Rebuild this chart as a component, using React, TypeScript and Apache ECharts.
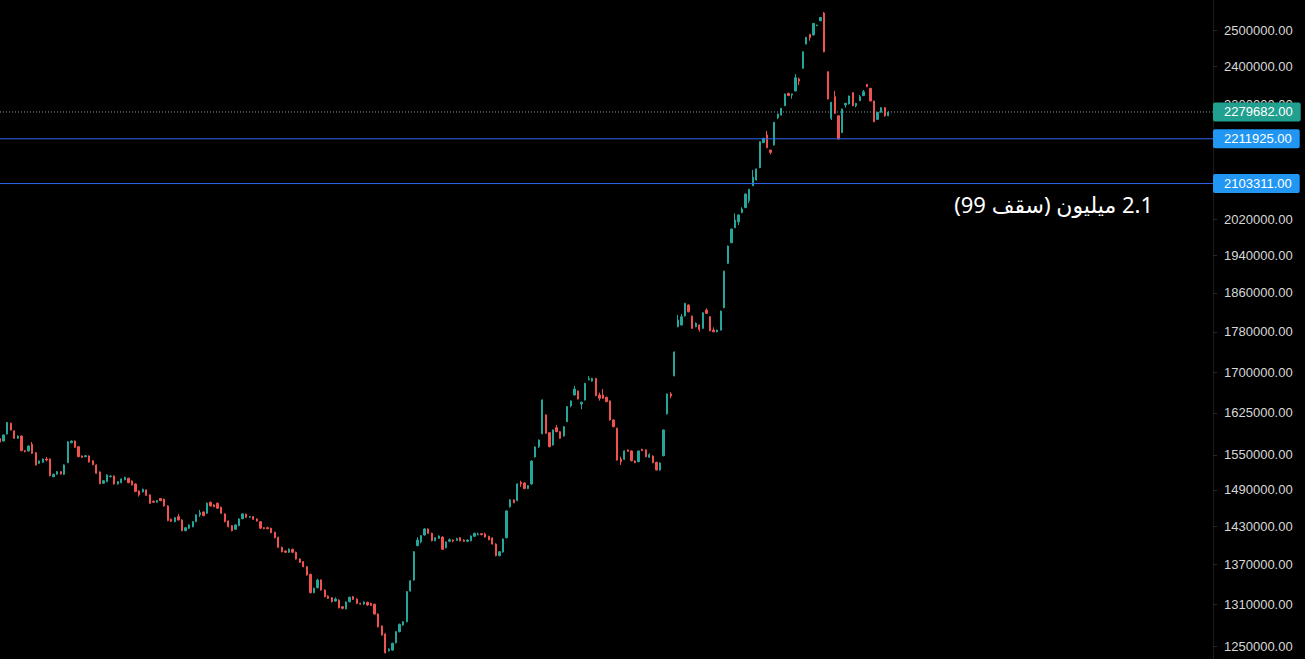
import { useEffect, useRef } from 'react';
import * as echarts from 'echarts';

const opens = [
  1578700, 1574250, 1586800, 1606000, 1592200, 1579100, 1583200, 1557300, 1556750, 1568500,
  1553800, 1535300, 1537000, 1542800, 1542800, 1512300, 1516500, 1520900, 1516500, 1536400,
  1571300, 1574300, 1564300, 1548000, 1546800, 1548000, 1539800, 1532400, 1520400, 1501200,
  1503900, 1512300, 1513500, 1500000, 1502200, 1507200, 1509600, 1505000, 1500000, 1488300,
  1486700, 1490000, 1481700, 1471200, 1469500, 1475500, 1474500, 1463400, 1441600, 1437700,
  1445900, 1440500, 1423200, 1427100, 1429600, 1437700, 1448700, 1453500, 1451400, 1469500,
  1465100, 1467900, 1461300, 1450300, 1438900, 1431300, 1425400, 1431300, 1442600, 1449800,
  1444900, 1445900, 1442100, 1437700, 1428000, 1428000, 1427100, 1420600, 1412600, 1396800,
  1391000, 1389000, 1393700, 1389000, 1378600, 1374400, 1366700, 1355000, 1327300, 1334800,
  1346300, 1331300, 1322300, 1319800, 1314800, 1316300, 1306500, 1303500, 1313800, 1321300,
  1317800, 1311400, 1310400, 1312900, 1311400, 1310000, 1295800, 1278400, 1267000, 1243300,
  1244300, 1254600, 1270300, 1279900, 1284600, 1329800, 1346300, 1399400, 1405600, 1416300,
  1425900, 1419000, 1407200, 1411000, 1413100, 1396200, 1406300, 1408300, 1407800, 1412000,
  1408300, 1406300, 1407200, 1414200, 1416800, 1418400, 1417900, 1414200, 1411500, 1402000,
  1383700, 1389500, 1412000, 1461800, 1473300, 1472100, 1502900, 1501700, 1492200, 1500000,
  1546300, 1564300, 1587300, 1621200, 1589100, 1567300, 1598100, 1590900, 1583200, 1609000,
  1637700, 1658000, 1665400, 1641300, 1648700, 1686600, 1684100, 1689200, 1658000, 1658000,
  1653700, 1646900, 1612000, 1597100, 1542800, 1542300, 1558500, 1556800, 1539300, 1538100,
  1559700, 1558500, 1545700, 1548000, 1537000, 1523800, 1548500, 1623000, 1659800, 1694200,
  1790300, 1793800, 1812000, 1834600, 1812000, 1790300, 1793800, 1787100, 1824200, 1810600,
  1783600, 1780200, 1783600, 1829000, 1922700, 1967800, 2001200, 2014800, 2035400, 2047000,
  2063200, 2098200, 2111800, 2141200, 2202300, 2221500, 2184000, 2196500, 2264900, 2271900,
  2295900, 2328200, 2323800, 2334200, 2365700, 2394600, 2460800, 2488000, 2486000, 2512000,
  2526000, 2548300, 2385400, 2263400, 2319300, 2270000, 2227300, 2297700, 2300300, 2329800,
  2295900, 2308900, 2322000, 2351700, 2341300, 2308100, 2260800, 2278800, 2290700, 2270000,
];

const highs = [
  1579800, 1586000, 1608500, 1607000, 1593200, 1584200, 1584200, 1558300, 1566500, 1572500,
  1554800, 1540300, 1543800, 1546300, 1543800, 1517500, 1521900, 1521900, 1533400, 1574000,
  1575300, 1575300, 1565300, 1549000, 1549500, 1549000, 1540800, 1533400, 1521400, 1506500,
  1516300, 1514500, 1514500, 1504900, 1509400, 1512300, 1510600, 1506000, 1501000, 1489300,
  1492200, 1491000, 1482700, 1472200, 1473100, 1476500, 1475500, 1464400, 1442600, 1445200,
  1450300, 1441500, 1429000, 1433400, 1438700, 1449700, 1456800, 1454500, 1468900, 1470500,
  1466100, 1468900, 1462300, 1451300, 1439900, 1432300, 1433400, 1443100, 1451300, 1450800,
  1446900, 1446900, 1443100, 1438700, 1429000, 1429600, 1428100, 1421600, 1413600, 1397800,
  1392000, 1395000, 1394700, 1390000, 1379600, 1375400, 1367700, 1356000, 1334900, 1348300,
  1347300, 1332300, 1323300, 1320800, 1320400, 1317300, 1307500, 1314400, 1321400, 1322300,
  1318800, 1312400, 1314400, 1313900, 1312400, 1311000, 1296800, 1279400, 1268000, 1246700,
  1254700, 1271300, 1281900, 1285600, 1329800, 1346200, 1390900, 1412600, 1416200, 1427500,
  1426900, 1420000, 1413000, 1415700, 1414100, 1406200, 1411000, 1409300, 1412000, 1413000,
  1409300, 1409300, 1415700, 1420000, 1420000, 1419400, 1420000, 1415200, 1412500, 1403000,
  1390900, 1410900, 1456200, 1475000, 1474300, 1501000, 1505500, 1502700, 1498200, 1540300,
  1564800, 1577000, 1649700, 1622200, 1590100, 1595000, 1603000, 1591900, 1600900, 1637400,
  1647900, 1674700, 1666400, 1645500, 1680800, 1693600, 1690200, 1690200, 1662200, 1669100,
  1654700, 1647900, 1613000, 1598100, 1546800, 1557800, 1559500, 1557800, 1540300, 1557800,
  1560700, 1559500, 1552700, 1549000, 1538000, 1536800, 1595000, 1660800, 1663000, 1741100,
  1814100, 1816100, 1839100, 1835600, 1813000, 1799200, 1794800, 1819700, 1827700, 1811600,
  1789100, 1784600, 1823200, 1906900, 1961500, 1999300, 2034000, 2031200, 2047900, 2079700,
  2090700, 2135700, 2139100, 2205800, 2214300, 2231500, 2185000, 2254300, 2275400, 2290100,
  2327400, 2329200, 2327400, 2379200, 2369200, 2440300, 2480600, 2489000, 2519800, 2515000,
  2536800, 2551200, 2386400, 2305700, 2334200, 2271000, 2288300, 2303100, 2322100, 2330800,
  2303100, 2323800, 2336800, 2352700, 2342300, 2309100, 2279800, 2291700, 2291700, 2281000,
];

const lows = [
  1571500, 1573200, 1585800, 1593000, 1578100, 1578100, 1556300, 1554500, 1555700, 1551700,
  1531400, 1534300, 1536000, 1538400, 1513100, 1511300, 1515500, 1516000, 1515500, 1535400,
  1570300, 1562200, 1545800, 1544700, 1545800, 1536600, 1531900, 1517200, 1499500, 1500200,
  1502900, 1511300, 1499000, 1499000, 1501200, 1506200, 1501200, 1497400, 1486200, 1478800,
  1485700, 1480100, 1466900, 1468500, 1468500, 1471100, 1462400, 1438400, 1437400, 1436700,
  1439500, 1422200, 1422200, 1426100, 1428600, 1436700, 1445400, 1446500, 1450400, 1462400,
  1461200, 1458600, 1450400, 1436700, 1428600, 1422200, 1424400, 1430300, 1441600, 1443900,
  1443900, 1440600, 1437900, 1426100, 1425400, 1425400, 1419000, 1411000, 1395800, 1388900,
  1388000, 1388000, 1388000, 1377600, 1372500, 1365700, 1353000, 1326300, 1326300, 1333800,
  1330300, 1320300, 1317900, 1312800, 1313800, 1304000, 1302600, 1302500, 1312800, 1316400,
  1310400, 1309400, 1309400, 1308000, 1307500, 1294800, 1276400, 1264600, 1239500, 1242300,
  1243300, 1253600, 1269300, 1278900, 1283600, 1328800, 1345300, 1398400, 1403100, 1415300,
  1418000, 1406200, 1406200, 1409900, 1392700, 1395200, 1405300, 1404700, 1406800, 1406200,
  1405300, 1405300, 1406200, 1413200, 1415800, 1415800, 1412100, 1407800, 1401000, 1382700,
  1382700, 1388500, 1411000, 1460800, 1467800, 1471100, 1495000, 1491200, 1491200, 1499000,
  1545300, 1562000, 1586300, 1587100, 1563300, 1566300, 1589900, 1578100, 1582200, 1608000,
  1635300, 1657000, 1649600, 1631600, 1647700, 1685600, 1683100, 1655700, 1647400, 1650900,
  1644600, 1611000, 1598900, 1540000, 1532400, 1541300, 1555200, 1538800, 1535400, 1537100,
  1556300, 1545800, 1544700, 1535400, 1522800, 1522800, 1547500, 1622000, 1651900, 1693200,
  1789300, 1792800, 1811000, 1819700, 1786100, 1789300, 1780200, 1786100, 1816500, 1781200,
  1779200, 1779200, 1782600, 1828000, 1921700, 1966800, 2000200, 2007400, 2034400, 2046000,
  2057200, 2097200, 2110800, 2140200, 2201300, 2188800, 2173600, 2195500, 2261600, 2270900,
  2294900, 2321000, 2314100, 2333200, 2350000, 2393600, 2459800, 2470000, 2485000, 2511000,
  2525000, 2438300, 2312300, 2259000, 2275200, 2210500, 2226300, 2290700, 2299300, 2294900,
  2291700, 2307900, 2321000, 2344400, 2307100, 2253800, 2259800, 2277800, 2267500, 2269000,
];

const closes = [
  1572500, 1585000, 1607500, 1594000, 1579100, 1583200, 1557300, 1555500, 1565500, 1552700,
  1532400, 1539300, 1542800, 1541000, 1514100, 1516500, 1520900, 1517000, 1532400, 1573000,
  1574300, 1563200, 1546800, 1545700, 1548500, 1537600, 1532900, 1518200, 1500500, 1505500,
  1515300, 1513500, 1500000, 1503900, 1508400, 1511300, 1502200, 1498400, 1487200, 1481700,
  1491200, 1481100, 1467900, 1469500, 1472100, 1472100, 1463400, 1439400, 1438400, 1444200,
  1440500, 1423200, 1428000, 1432400, 1437700, 1448700, 1452400, 1447500, 1467900, 1463400,
  1462200, 1459600, 1451400, 1437700, 1429600, 1423200, 1432400, 1442100, 1450300, 1444900,
  1445900, 1441600, 1438900, 1427100, 1426400, 1426400, 1420000, 1412000, 1396800, 1389900,
  1389000, 1394000, 1389000, 1378600, 1373500, 1366700, 1354000, 1327300, 1333900, 1346300,
  1331300, 1321300, 1318900, 1313800, 1317800, 1305000, 1304100, 1313400, 1320400, 1317400,
  1311400, 1310400, 1313400, 1309000, 1308500, 1295800, 1277400, 1265600, 1240500, 1245700,
  1253700, 1270300, 1280900, 1284600, 1328800, 1345200, 1389900, 1408300, 1415200, 1425900,
  1419000, 1407200, 1412000, 1414700, 1393700, 1405200, 1408800, 1406700, 1410400, 1407200,
  1406300, 1408300, 1414700, 1419000, 1417900, 1416800, 1413100, 1408800, 1402000, 1383700,
  1389900, 1409900, 1455200, 1473300, 1468800, 1500000, 1500000, 1492200, 1497200, 1539300,
  1563800, 1576000, 1648700, 1588100, 1564300, 1594000, 1590900, 1579100, 1599900, 1636400,
  1646900, 1669100, 1650600, 1644500, 1679800, 1688500, 1689200, 1656700, 1651900, 1651900,
  1645600, 1612000, 1599900, 1541000, 1538100, 1556800, 1556200, 1539800, 1536400, 1556800,
  1557300, 1546800, 1550300, 1536400, 1523800, 1535800, 1594000, 1659800, 1656100, 1740100,
  1803900, 1810600, 1838100, 1820700, 1787100, 1797200, 1785000, 1818700, 1817500, 1782200,
  1780200, 1783600, 1822200, 1905900, 1960500, 1998300, 2018700, 2030200, 2043900, 2078700,
  2089700, 2118300, 2138100, 2204800, 2213300, 2189800, 2178400, 2253300, 2274400, 2289100,
  2326400, 2322000, 2326400, 2369200, 2360400, 2439300, 2479600, 2478400, 2518800, 2514000,
  2535800, 2439300, 2313300, 2304700, 2276200, 2211500, 2287300, 2302100, 2321100, 2295900,
  2302100, 2319300, 2332400, 2345400, 2308100, 2254800, 2278800, 2290700, 2270000, 2279682,
];

// empty sessions to the right of the last candle
const futureSlots = 91;

// price-scale tick labels
const yTicks = [
  1250000, 1310000, 1370000, 1430000, 1490000, 1550000, 1625000, 1700000,
  1780000, 1860000, 1940000, 2020000, 2300000, 2400000, 2500000,
];
const yMin = 1231850;
const yMax = 2585850;

const lastPrice = 2279682;
const levelPrices = [2211925, 2103311];
const annotation = '2.1 ميليون (سقف 99)';

const UP = '#26a69a';
const DOWN = '#ef5350';
const LEVEL_LINE = '#2f66f0';
const LEVEL_BOX = '#2196f3';
const LAST_LINE = '#8a9e9c';
const LAST_BOX = '#22a08f';
const LABEL_FONT = '"Liberation Sans", Arial, sans-serif';

export default function App() {
  const ref = useRef<HTMLDivElement>(null);

  useEffect(() => {
    document.body.style.margin = '0';
    document.body.style.background = '#000';
    const el = ref.current;
    if (!el) return;
    const chart = echarts.init(el, null, { renderer: 'svg' });

    const total = opens.length + futureSlots;
    const categories = Array.from({ length: total }, (_, i) => `S${i + 1}`);
    const candles = opens.map((o, i) => [o, closes[i], lows[i], highs[i]]);

    // a horizontal price line spanning the whole time range, with its
    // price tag drawn as the series' end label on the price scale
    const priceLine = (name: string, value: number, color: string, type: any, bg: string) => ({
      name,
      type: 'line',
      z: 3,
      silent: true,
      symbol: 'none',
      showSymbol: false,
      clip: false,
      color,
      data: [
        [categories[0], value],
        [categories[total - 1], value],
      ],
      lineStyle: { color, type, width: 1, opacity: 1 },
      emphasis: { disabled: true },
      endLabel: {
        show: true,
        distance: 0,
        color: '#ffffff',
        fontSize: 13,
        fontFamily: LABEL_FONT,
        lineHeight: 15,
        padding: [2, 8, 2, 11],
        borderRadius: 2,
        backgroundColor: bg,
        formatter: (p: any) => Number(Array.isArray(p.value) ? p.value[1] : p.value).toFixed(2),
      },
    });

    chart.setOption({
      animation: false,
      backgroundColor: '#000000',
      textStyle: { fontFamily: LABEL_FONT },
      grid: { left: 0, right: 92, top: 0, bottom: 0, containLabel: false },
      xAxis: {
        type: 'category',
        data: categories,
        show: false,
        boundaryGap: false,
      },
      yAxis: {
        type: 'log',
        logBase: 10,
        min: yMin,
        max: yMax,
        position: 'right',
        axisLine: { show: true, lineStyle: { color: '#1c1c1c', width: 1 } },
        axisTick: {
          show: true,
          length: 4,
          customValues: yTicks,
          lineStyle: { color: '#2a2a2a' },
        },
        axisLabel: {
          customValues: yTicks,
          color: '#d8d8d8',
          fontSize: 13,
          fontFamily: LABEL_FONT,
          margin: 11,
          formatter: (v: number) => Number(v).toFixed(2),
        },
        splitLine: { show: false },
        minorTick: { show: false },
        minorSplitLine: { show: false },
      },
      series: [
        {
          name: 'price',
          type: 'candlestick',
          data: candles,
          barWidth: 1.8,
          itemStyle: {
            color: UP,
            color0: DOWN,
            borderColor: UP,
            borderColor0: DOWN,
            borderWidth: 1,
          },
        },
        priceLine('level-1', levelPrices[0], LEVEL_LINE, 'solid', LEVEL_BOX),
        priceLine('level-2', levelPrices[1], LEVEL_LINE, 'solid', LEVEL_BOX),
        priceLine('last', lastPrice, LAST_LINE, [1, 2], LAST_BOX),
      ],
      graphic: [
        {
          type: 'text',
          x: 1153,
          y: 204,
          z: 10,
          style: {
            text: '\u202B' + annotation + '\u202C',
            fill: '#ffffff',
            fontSize: 22,
            fontFamily: '"Noto Sans", "DejaVu Sans", sans-serif',
            align: 'right',
            verticalAlign: 'middle',
          },
        },
      ],
    });

    return () => {
      chart.dispose();
    };
  }, []);

  return (
    <div
      ref={ref}
      style={{ position: 'fixed', left: 0, top: 0, width: 1305, height: 659, background: '#000' }}
    />
  );
}
